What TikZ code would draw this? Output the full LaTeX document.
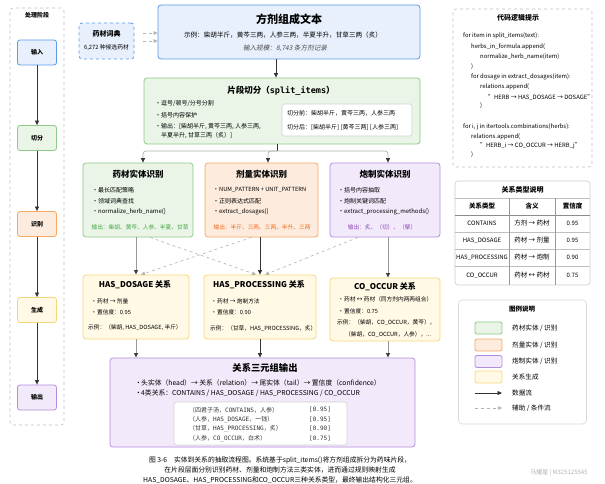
\documentclass[tikz,border=0pt]{standalone}
\usepackage{fontspec}
\setmainfont{Noto Sans CJK SC}[AutoFakeSlant=0.2]
\newfontfamily\monofont{DejaVu Sans Mono}
\usetikzlibrary{arrows.meta}

\definecolor{lineblue}{HTML}{5B9BEA}
\definecolor{fillblue}{HTML}{E7F0FC}
\definecolor{linegreen}{HTML}{8ECB86}
\definecolor{fillgreen}{HTML}{EAF5E7}
\definecolor{lineorange}{HTML}{F6A964}
\definecolor{fillorange}{HTML}{FDEBDD}
\definecolor{linepurple}{HTML}{B58CDD}
\definecolor{fillpurple}{HTML}{F2EAFB}
\definecolor{lineyellow}{HTML}{F8D77A}
\definecolor{fillyellow}{HTML}{FFF9E5}
\definecolor{textgreen}{HTML}{46A546}
\definecolor{textorange}{HTML}{F06A1E}
\definecolor{textpurple}{HTML}{8E44B5}

\newcommand{\fsz}[2]{\fontsize{#1}{#2}\selectfont}
\newcommand{\bul}{\makebox[6pt][l]{\textbullet}}

\tikzset{
  box/.style={draw, rounded corners=3pt, line width=0.8pt, inner sep=0pt},
  stagebox/.style={box, rounded corners=2.5pt, minimum width=39pt, minimum height=25pt, font=\fsz{6}{7}\bfseries},
  ghostbox/.style={draw=black!25, dashed, rounded corners=3pt, line width=0.6pt, inner sep=0pt},
  dictbox/.style={box, dashed, draw=lineblue, fill=fillblue},
  whitebox/.style={draw=black!18, fill=white, rounded corners=2.5pt, line width=0.6pt, inner sep=0pt},
  txt/.style={anchor=west, inner sep=0pt, font=\fsz{6}{7}},
  txtsmall/.style={anchor=west, inner sep=0pt, font=\fsz{5.7}{7}},
  codetxt/.style={anchor=west, inner sep=0pt, font=\fsz{5.9}{7}},
  tabtxt/.style={inner sep=0pt, font=\fsz{6}{7}},
  boxtitle/.style={inner sep=0pt, font=\fsz{8.5}{10}\bfseries},
  flow/.style={line width=0.7pt, black!80, -{Triangle[length=4.5pt,width=4pt]}},
  softflow/.style={line width=1pt, draw=black!40, -{Triangle[length=4.5pt,width=4pt,color=black!75]}},
  branch/.style={line width=0.7pt, draw=black!30, rounded corners=3pt, -{Triangle[length=4.5pt,width=4pt,color=black!80]}},
  aux/.style={line width=0.6pt, dashed, draw=black!30, -{Triangle[length=4pt,width=3.5pt]}},
}

\begin{document}
\begin{tikzpicture}[x=1pt, y=-1pt]
\fill[white] (0,0) rectangle (605,484);
\useasboundingbox (0,0) rectangle (605,484);

\node[ghostbox, minimum width=54pt, minimum height=417pt] (phase) at (37,216.5) {};
\node[font=\fsz{6}{7}\bfseries] (phasetitle) at (37,15) {处理阶段};
\foreach \n/\t/\y/\col in {sin/输入/52.5/blue, scut/切分/138/green, srec/识别/224/orange, sgen/生成/310/yellow, sout/输出/397.5/purple}
  \node[stagebox, draw=line\col, fill=fill\col] (\n) at (37,\y) {\t};
\foreach \a/\b in {sin/scut, scut/srec, srec/sgen, sgen/sout}
  \draw[flow] (\a) -- (\b);

\node[dictbox, minimum width=55pt, minimum height=36pt] (dict) at (106.5,41) {};
\node[font=\fsz{7}{8}\bfseries] (dicttitle) at (106.5,34) {药材词典};
\node[font=\fsz{5.8}{6.5}] (dictsize) at (106.5,47.5) {6,272 种候选药材};

\node[box, draw=lineblue, fill=fillblue, minimum width=262pt, minimum height=54pt] (text) at (289,32) {};
\node[font=\fsz{11}{13}\bfseries, inner sep=0pt] (texttitle) at (289,19) {方剂组成文本};
\node[font=\fsz{6.6}{8}, inner sep=0pt] (textex) at (283,35) {示例：柴胡半斤，黄芩三两，人参三两，半夏半升，甘草三两（炙）};
\node[font=\fsz{6.6}{8}\itshape, text=black!70, inner sep=0pt] (textsize) at (285,48) {输入规模：8,743 条方剂记录};
\draw[aux] ([xshift=9pt,yshift=8pt]dict.east) -- ([yshift=8pt]dict.east -| text.west);
\draw[aux] ([xshift=9pt]dict.east) -- (dict.east -| text.west);

\node[box, draw=linegreen, fill=fillgreen, minimum width=276pt, minimum height=66pt] (split) at (282,111) {};
\node[boxtitle] (splittitle) at (281,91) {片段切分（{\monofont split\_items}）};
\node[txt] (sp1) at (155,104) {\bul 逗号/顿号/分号分割};
\node[txt] (sp2) at (155,115) {\bul 括号内容保护};
\node[txt] (sp3) at (155,127) {\bul 输出：[柴胡半斤, 黄芩三两, 人参三两,};
\node[txt] (sp4) at (161,136) {半夏半升, 甘草三两（炙）]};
\node[whitebox, minimum width=130pt, minimum height=32pt] (splitex) at (347,120) {};
\node[txt] (before) at (287,113) {切分前：柴胡半斤，黄芩三两，人参三两};
\node[txt] (after) at (287,127) {切分后：[柴胡半斤] [黄芩三两] [人参三两]};
\draw[flow] ([xshift=-13pt]text.south) -- ([xshift=-13pt]text.south |- split.north);

\node[box, draw=linegreen, fill=fillgreen, minimum width=110pt, minimum height=74pt] (herb) at (138,200) {};
\node[box, draw=lineorange, fill=fillorange, minimum width=113pt, minimum height=74pt] (dose) at (261.5,200) {};
\node[box, draw=linepurple, fill=fillpurple, minimum width=110pt, minimum height=74pt] (proc) at (385,200) {};
\node[boxtitle] (herbtitle) at (138,174) {药材实体识别};
\node[boxtitle] (dosetitle) at (261.5,174) {剂量实体识别};
\node[boxtitle] (proctitle) at (385,174) {炮制实体识别};
\node[txt] (h1) at (92,190) {\bul 最长匹配策略};
\node[txt] (h2) at (92,201) {\bul 领域词典查找};
\node[txt] (h3) at (92,212) {\bul normalize\_herb\_name()};
\node[txtsmall, anchor=center, text=textgreen] (hout) at (140,227) {输出：柴胡、黄芩、人参、半夏、甘草};
\node[txtsmall] (d1) at (213,190) {\bul NUM\_PATTERN + UNIT\_PATTERN};
\node[txt] (d2) at (213,201) {\bul 正则表达式匹配};
\node[txt] (d3) at (213,212) {\bul extract\_dosages()};
\node[txtsmall, anchor=center, text=textorange] (dout) at (262,227) {输出：半斤、三两、三两、半升、三两};
\node[txt] (p1) at (338,190) {\bul 括号内容抽取};
\node[txt] (p2) at (338,201) {\bul 炮制关键词匹配};
\node[txt] (p3) at (338,212) {\bul extract\_processing\_methods()};
\node[txtsmall, anchor=center, text=textpurple] (pout) at (382,227) {输出：炙、（切）、（擘）};

\coordinate (fork) at (277,151);
\draw[line width=0.7pt, black!80] (split.south -| fork) -- (fork);
\draw[branch] (fork) -| ([xshift=5pt]herb.north);
\draw[branch] (fork) -| ([xshift=6.5pt]dose.north);
\draw[branch] (fork) -| ([xshift=3pt]proc.north);

\node[box, draw=lineyellow, fill=fillyellow, minimum width=106pt, minimum height=64pt] (dosrel) at (136,307) {};
\node[box, draw=lineyellow, fill=fillyellow, minimum width=112pt, minimum height=64pt] (procrel) at (260,307) {};
\node[box, draw=lineyellow, fill=fillyellow, minimum width=110pt, minimum height=63pt] (cooc) at (385,309.5) {};
\node[boxtitle, font=\fsz{8}{9.5}\bfseries] (dosreltitle) at (135,285) {HAS\_DOSAGE 关系};
\node[boxtitle, font=\fsz{8}{9.5}\bfseries] (procreltitle) at (259,285) {HAS\_PROCESSING 关系};
\node[boxtitle, font=\fsz{8}{9.5}\bfseries] (cooctitle) at (385,287) {CO\_OCCUR 关系};
\node[txtsmall] (r1) at (91,301) {\bul 药材 → 剂量};
\node[txtsmall] (r2) at (91,312) {\bul 置信度：0.95};
\node[txtsmall] (r3) at (88,328) {示例：（柴胡, HAS\_DOSAGE, 半斤）};
\node[txtsmall] (q1) at (211,301) {\bul 药材 → 炮制方法};
\node[txtsmall] (q2) at (211,312) {\bul 置信度：0.90};
\node[txtsmall] (q3) at (210,328) {示例：（甘草，HAS\_PROCESSING，炙）};
\node[txtsmall] (c1) at (338,299) {\bul 药材 ↔ 药材（同方剂内两两组合）};
\node[txtsmall] (c2) at (338,311) {\bul 置信度：0.75};
\node[txtsmall] (c3) at (337,322) {示例：（柴胡，CO\_OCCUR，黄芩），};
\node[txtsmall] (c4) at (345,334) {（柴胡，CO\_OCCUR，人参），...};

\draw[softflow] (dosrel.north |- herb.south) -- (dosrel.north);
\draw[flow] (procrel.north |- dose.south) -- (procrel.north);
\draw[softflow] ([xshift=3pt]cooc.north |- proc.south) -- ([xshift=3pt]cooc.north);
\draw[aux] ([xshift=12pt]herb.south) -- ([xshift=-4pt]procrel.north);
\draw[aux] ([xshift=-10pt]dose.south) -- ([xshift=5pt]dosrel.north);
\draw[aux] ([xshift=-27pt]proc.south) -- ([xshift=5pt]procrel.north);

\node[box, draw=linepurple, fill=fillpurple, minimum width=305pt, minimum height=89pt] (out) at (262.5,402.5) {};
\node[font=\fsz{9.3}{11}\bfseries, inner sep=0pt] (outtitle) at (265,368) {关系三元组输出};
\node[txt, font=\fsz{6.8}{7.5}] (o1) at (135,383) {\bul 头实体（head）→ 关系（relation）→ 尾实体（tail）→ 置信度（confidence）};
\node[txt, font=\fsz{6.8}{7.5}] (o2) at (135,393) {\bul 4类关系：CONTAINS / HAS\_DOSAGE / HAS\_PROCESSING / CO\_OCCUR};
\node[whitebox, minimum width=173pt, minimum height=43pt] (triples) at (260.5,423.5) {};
\foreach \y/\t/\v [count=\i] in {410/{（四君子汤，{\monofont CONTAINS}，人参）}/0.95,
    419.5/{（人参，{\monofont HAS\_DOSAGE}，一钱）}/0.95,
    429/{（甘草，{\monofont HAS\_PROCESSING}，炙）}/0.90,
    438.5/{（人参，{\monofont CO\_OCCUR}，白术）}/0.75} {
  \node[txt, text=black!80] (tri\i) at (189,\y) {\t};
  \node[txt, text=black!80, font=\fsz{6}{7}\monofont] (conf\i) at (309,\y) {[\v]};
}

\draw[softflow] (dosrel.south) -- (dosrel.south |- out.north);
\draw[flow] (procrel.south) -- (procrel.south |- out.north);
\draw[softflow] ([xshift=3pt]cooc.south) -- ([xshift=3pt]cooc.south |- out.north);

\node[ghostbox, minimum width=139pt, minimum height=158pt] (code) at (522.5,88) {};
\node[font=\fsz{7}{8}\bfseries, inner sep=0pt] (codetitle) at (518,18) {代码逻辑提示};
\foreach \x/\y/\t [count=\i] in {463/36/{for item in split\_items(text):},
    471/47/{herbs\_in\_formula.append(},
    480/57/{normalize\_herb\_name(item)},
    471/67/{)},
    471/77/{for dosage in extract\_dosages(item):},
    480/87/{relations.append(},
    488/97/{"HERB → HAS\_DOSAGE → DOSAGE"},
    480/106/{)},
    463/127/{for i, j in itertools.combinations(herbs):},
    471/137/{relations.append(},
    480/146/{"HERB\_i → CO\_OCCUR → HERB\_j"},
    471/155/{)}}
  \node[codetxt] (code\i) at (\x,\y) {\t};

\node[draw=black!20, rounded corners=3pt, line width=0.6pt, minimum width=135pt, minimum height=104pt, inner sep=0pt] (table) at (522.5,233) {};
\draw[black!25, line width=0.6pt] (table.west |- 0,198) -- (table.east |- 0,198);
\draw[black!45, line width=0.8pt] (table.west |- 0,215) -- (table.east |- 0,215);
\foreach \y in {232,249,266}
  \draw[black!25, line width=0.6pt] (table.west |- 0,\y) -- (table.east |- 0,\y);
\foreach \x in {509,555}
  \draw[black!40, line width=0.6pt] (\x,198) -- (\x,285);
\node[tabtxt, font=\fsz{7}{8}\bfseries] (tabtitle) at (522.5,190) {关系类型说明};
\node[tabtxt, font=\fsz{6.5}{7.5}\bfseries] (colrel) at (482,206.5) {关系类型};
\node[tabtxt, font=\fsz{6.5}{7.5}\bfseries] (colmean) at (532,206.5) {含义};
\node[tabtxt, font=\fsz{6.5}{7.5}\bfseries] (colconf) at (572.5,206.5) {置信度};
\foreach \y/\r/\m/\v [count=\i] in {223.5/CONTAINS/方剂 → 药材/0.95,
    240.5/HAS\_DOSAGE/药材 → 剂量/0.95,
    257.5/HAS\_PROCESSING/药材 → 炮制/0.90,
    275.5/CO\_OCCUR/药材 ↔ 药材/0.75} {
  \node[tabtxt] (rel\i) at (482,\y) {\r};
  \node[tabtxt, font=\fsz{6.5}{7.5}] (mean\i) at (532,\y) {\m};
  \node[tabtxt] (val\i) at (572.5,\y) {\v};
}

\node[draw=black!15, fill=white, rounded corners=4pt, line width=0.6pt, minimum width=128pt, minimum height=124pt, inner sep=0pt] (legend) at (522.5,362) {};
\node[font=\fsz{6.5}{7.5}\bfseries, inner sep=0pt] (legendtitle) at (522,309) {图例说明};
\foreach \y/\col/\t in {328/green/{药材实体 / 识别}, 345/orange/{剂量实体 / 识别}, 361.5/purple/{炮制实体 / 识别}, 377/yellow/{关系生成}} {
  \node[box, rounded corners=2pt, draw=line\col, fill=fill\col, minimum width=27pt, minimum height=12pt] (sw\col) at (488.5,\y) {};
  \node[txt, font=\fsz{6.6}{7.5}] (lab\col) at (512,\y) {\t};
}
\coordinate (flowa) at (475,393);
\coordinate (flowb) at (502,393);
\draw[flow] (flowa) -- (flowb);
\node[txt, font=\fsz{6.6}{7.5}] (labflow) at (512,393) {数据流};
\coordinate (auxa) at (475,408);
\coordinate (auxb) at (502,408);
\draw[aux] (auxa) -- (auxb);
\node[txt, font=\fsz{6.6}{7.5}] (labaux) at (512,408) {辅助 / 条件流};

\node[align=center, font=\fsz{6.8}{10}, inner sep=0pt] (caption) at (280,470) {图 3-6\quad 实体到关系的抽取流程图。系统基于split\_items()将方剂组成拆分为药味片段，\\在片段层面分别识别药材、剂量和炮制方法三类实体，进而通过规则映射生成\\HAS\_DOSAGE、HAS\_PROCESSING和CO\_OCCUR三种关系类型，最终输出结构化三元组。};
\node[font=\fsz{6}{7}, text=black!30, inner sep=0pt] (mark) at (559,473) {马耀星 | M325125545};
\end{tikzpicture}
\end{document}
